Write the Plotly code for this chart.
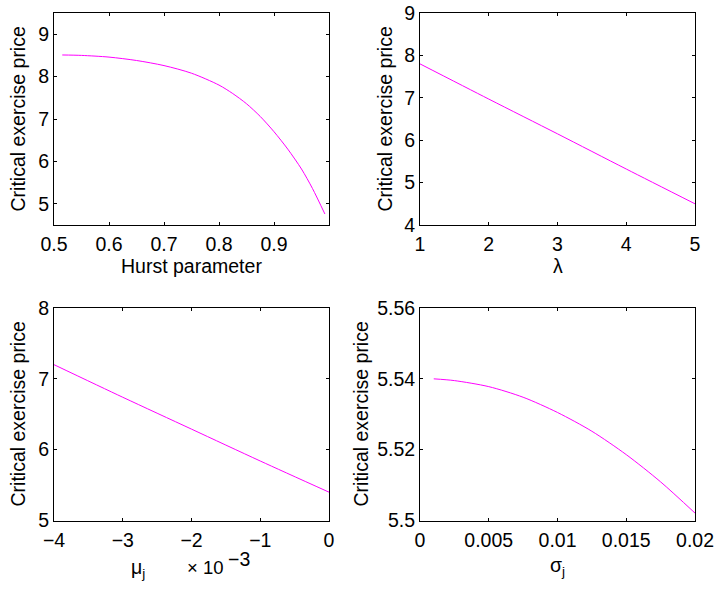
import plotly.graph_objects as go

# ---- data ----
hurst = [0.515, 0.55, 0.6, 0.65, 0.7, 0.75, 0.8, 0.825, 0.85, 0.875, 0.9, 0.925, 0.95, 0.97, 0.9925]
price_hurst = [8.51, 8.50, 8.46, 8.38, 8.26, 8.08, 7.80, 7.60, 7.36, 7.06, 6.70, 6.29, 5.82, 5.36, 4.76]

lam = [1, 2, 3, 4, 5]
price_lam = [7.80, 6.97, 6.15, 5.32, 4.50]

mu_j_e3 = [-4, -3, -2, -1, 0]          # in units of 1e-3
price_mu = [7.20, 6.74, 6.29, 5.84, 5.40]

sigma_j = [0.001, 0.0025, 0.005, 0.0075, 0.01, 0.0125, 0.015, 0.0175, 0.02]
price_sigma = [5.5400, 5.5395, 5.5378, 5.5348, 5.5305, 5.5252, 5.5186, 5.5109, 5.5021]

# tick labels
x1_ticks = [0.5, 0.6, 0.7, 0.8, 0.9]
x1_text = ["0.5", "0.6", "0.7", "0.8", "0.9"]
y1_ticks = [5, 6, 7, 8, 9]
x2_ticks = [1, 2, 3, 4, 5]
y2_ticks = [4, 5, 6, 7, 8, 9]
x3_ticks = [-4, -3, -2, -1, 0]
x3_text = ["\u22124", "\u22123", "\u22122", "\u22121", "0"]
y3_ticks = [5, 6, 7, 8]
x4_ticks = [0, 0.005, 0.01, 0.015, 0.02]
x4_text = ["0", "0.005", "0.01", "0.015", "0.02"]
y4_ticks = [5.5, 5.52, 5.54, 5.56]
y4_text = ["5.5", "5.52", "5.54", "5.56"]

W, H = 715, 589
FONT = "Liberation Sans, Arial, Helvetica, sans-serif"
FS = 19.5
LINE = "#ff00ff"


def px_x(p):
    return p / W


def px_y(p):
    return 1 - p / H


cols = [(54, 329), (420, 695)]
rows = [(13, 225), (308, 520.5)]

fig = go.Figure()

panels = [
    (hurst, price_hurst, cols[0], rows[0], [0.5, 1.0], [4.5, 9.5], x1_ticks, x1_text, y1_ticks, [str(v) for v in y1_ticks]),
    (lam, price_lam, cols[1], rows[0], [1, 5], [4, 9], x2_ticks, [str(v) for v in x2_ticks], y2_ticks, [str(v) for v in y2_ticks]),
    (mu_j_e3, price_mu, cols[0], rows[1], [-4, 0], [5, 8], x3_ticks, x3_text, y3_ticks, [str(v) for v in y3_ticks]),
    (sigma_j, price_sigma, cols[1], rows[1], [0, 0.02], [5.5, 5.56], x4_ticks, x4_text, y4_ticks, y4_text),
]

axis_common = dict(
    showline=True, linecolor="black", linewidth=1, mirror="ticks",
    ticks="inside", ticklen=3, tickwidth=1, tickcolor="black",
    showgrid=False, zeroline=False, automargin=False,
    ticklabeloverflow="allow",
    tickfont=dict(family=FONT, size=FS, color="black"),
)

layout_axes = {}
for i, (xs, ys, c, r, xr, yr, xt, xtt, yt, ytt) in enumerate(panels, start=1):
    xa = "x" if i == 1 else f"x{i}"
    ya = "y" if i == 1 else f"y{i}"
    fig.add_trace(go.Scatter(x=xs, y=ys, mode="lines",
                             line=dict(color=LINE, width=1, shape="spline", smoothing=0.8),
                             xaxis=xa, yaxis=ya, showlegend=False, hoverinfo="x+y"))
    layout_axes["xaxis" if i == 1 else f"xaxis{i}"] = dict(
        axis_common, domain=[px_x(c[0]), px_x(c[1])], range=xr,
        tickvals=xt, ticktext=xtt, anchor=ya, ticklabelstandoff=2)
    layout_axes["yaxis" if i == 1 else f"yaxis{i}"] = dict(
        axis_common, domain=[px_y(r[1]), px_y(r[0])], range=yr,
        tickvals=yt, ticktext=ytt, anchor=xa)

annotations = []


def ann(text, x, y, angle=0, size=FS):
    annotations.append(dict(
        text=text, x=px_x(x), y=px_y(y), xref="paper", yref="paper",
        xanchor="center", yanchor="middle", showarrow=False, textangle=angle,
        font=dict(family=FONT, size=size, color="black")))


ylab = "Critical exercise price"
ann(ylab, 17.5, 119, -90)
ann(ylab, 384.5, 119, -90)
ann(ylab, 17.5, 414, -90)
ann(ylab, 360.5, 414, -90)

ann("Hurst parameter", 191.7, 266)
ann("\u03bb", 558, 266)
ann("\u03bc<sub>j</sub>", 138, 568)
# axis exponent, MATLAB style: "× 10" with a full-size raised "−3"
ann("\u00d7 10", 205.5, 567, size=18.5)
ann("\u22123", 238.5, 559)
ann("\u03c3<sub>j</sub>", 557, 566)

fig.update_layout(
    width=W, height=H,
    margin=dict(l=0, r=0, t=0, b=0, autoexpand=False),
    paper_bgcolor="white", plot_bgcolor="white",
    font=dict(family=FONT, size=FS, color="black"),
    annotations=annotations,
    **layout_axes,
)

# remove the browser's default 8px body margin so the figure fills the window
fig.write_html("out.html", config={"displayModeBar": False},
               post_script="document.body.style.margin='0';")
